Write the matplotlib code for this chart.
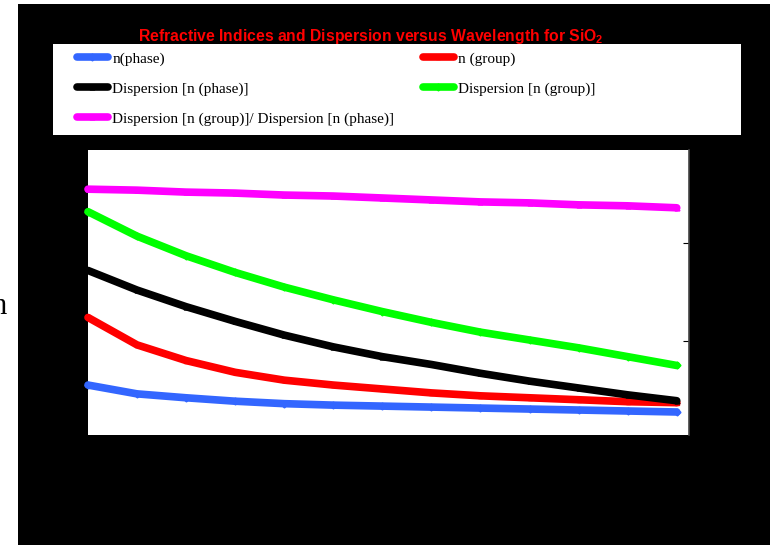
import matplotlib
matplotlib.use("Agg")
import matplotlib.pyplot as plt
from matplotlib.patches import Rectangle

# Wavelength grid (µm) and the plotted curves (arbitrary display units)
wavelength = [0.40, 0.50, 0.60, 0.70, 0.80, 0.90, 1.00, 1.10, 1.20, 1.30, 1.40, 1.50, 1.60]
n_phase = [0.55, 0.46, 0.42, 0.385, 0.36, 0.345, 0.335, 0.325, 0.315, 0.305, 0.295, 0.285, 0.275]
n_group = [1.24, 0.96, 0.80, 0.68, 0.60, 0.55, 0.51, 0.47, 0.44, 0.42, 0.40, 0.38, 0.37]
disp_phase = [1.72, 1.52, 1.35, 1.20, 1.06, 0.94, 0.84, 0.76, 0.67, 0.59, 0.52, 0.45, 0.39]
disp_group = [2.32, 2.07, 1.87, 1.70, 1.55, 1.42, 1.30, 1.19, 1.09, 1.01, 0.93, 0.84, 0.75]
disp_ratio = [2.55, 2.54, 2.52, 2.51, 2.49, 2.48, 2.46, 2.44, 2.42, 2.41, 2.39, 2.38, 2.36]

labels = ["n(phase)", "n (group)", "Dispersion [n (phase)]",
          "Dispersion [n (group)]", "Dispersion [n (group)]/ Dispersion [n (phase)]"]
title = r"Refractive Indices and Dispersion versus Wavelength for SiO$_\mathregular{2}$"
right_ticks = [1, 2]

W, H = 775, 545
fig = plt.figure(figsize=(W / 100, H / 100), dpi=100, facecolor="white")

# black backdrop panel
fig.patches.append(Rectangle((18 / W, 0), 752 / W, 1 - 4 / H, transform=fig.transFigure,
                             facecolor="black", edgecolor="none", zorder=0))

# white legend panel
fig.patches.append(Rectangle((53 / W, 1 - 135 / H), 688 / W, 91 / H, transform=fig.transFigure,
                             facecolor="white", edgecolor="none", zorder=3))

# axis label, mostly running off the left edge
fig.text(7 / W, 1 - 307 / H, "n", ha="right", va="center", fontsize=22,
         family=["Liberation Serif", "DejaVu Serif"], color="black", zorder=1)

fig.text(371 / W, 1 - 36 / H, title, ha="center", va="center", fontsize=11.3,
         fontweight="bold", color="red",
         family=["Liberation Sans Narrow", "Liberation Sans", "DejaVu Sans"], zorder=2)

ax = fig.add_axes([88 / W, 1 - 435 / H, 601 / W, 285 / H])
ax.set_zorder(1)
ax.set_facecolor("white")

styles = [
    (n_phase, "#3366ff", "D"),
    (n_group, "#ff0000", "s"),
    (disp_phase, "#000000", "^"),
    (disp_group, "#00ff00", "D"),
    (disp_ratio, "#ff00ff", "^"),
]
handles = []
for (vals, col, mk), lab in zip(styles, labels):
    h, = ax.plot(wavelength, vals, color=col, lw=5.5, marker=mk, ms=3.5,
                 solid_capstyle="round", solid_joinstyle="round",
                 clip_on=False, label=lab)
    handles.append(h)

ax.set_xlim(0.40, 1.625)
ax.set_ylim(0.04, 2.95)

for side in ["left", "top", "bottom"]:
    ax.spines[side].set_visible(False)
ax.spines["right"].set_color("#444444")
ax.spines["right"].set_linewidth(1.2)
ax.set_xticks([])
ax.yaxis.tick_right()
ax.set_yticks(right_ticks)
ax.tick_params(axis="y", direction="in", length=4, color="black", labelright=False)

legend_font = {"family": ["Liberation Serif", "DejaVu Serif"], "size": 11}
common = dict(frameon=False, borderpad=0, borderaxespad=0, loc="upper left",
              handlelength=2.0, handletextpad=0.3, labelspacing=1.05, prop=legend_font,
              bbox_transform=fig.transFigure)
leg1 = fig.legend([handles[0], handles[2], handles[4]],
                  [labels[0], labels[2], labels[4]],
                  bbox_to_anchor=(77 / W, 1 - 52 / H), **common)
leg2 = fig.legend([handles[1], handles[3]], [labels[1], labels[3]],
                  bbox_to_anchor=(423 / W, 1 - 52 / H), **common)
for leg in (leg1, leg2):
    leg.set_zorder(4)

fig.savefig("out.png", dpi=100, facecolor="white")
